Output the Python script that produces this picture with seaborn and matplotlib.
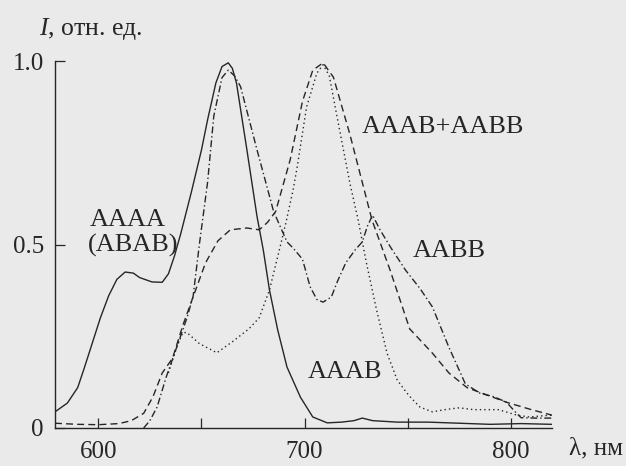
import matplotlib
matplotlib.use("Agg")
import matplotlib.pyplot as plt
import seaborn as sns

# ---- data ----
solid_nm = [579, 585, 590, 593, 597, 601, 605, 609, 613, 617, 620, 626, 631, 634, 637, 640, 645,
            650, 653, 657, 660, 663, 665, 667, 672, 677, 680, 683, 687, 691.5, 698, 704, 711, 718,
            724, 728, 733, 745, 760, 775, 790, 805, 820]
solid_I = [0.044, 0.068, 0.11, 0.16, 0.23, 0.30, 0.36, 0.405, 0.425, 0.422, 0.41, 0.398, 0.397,
           0.42, 0.47, 0.53, 0.64, 0.757, 0.84, 0.94, 0.985, 0.995, 0.98, 0.94, 0.76, 0.575,
           0.485, 0.376, 0.267, 0.166, 0.084, 0.03, 0.014, 0.016, 0.02, 0.027, 0.02, 0.016,
           0.016, 0.013, 0.01, 0.012, 0.01]

dashed_nm = [579, 590, 600, 610, 616, 622, 626.5, 631, 636, 641, 645.5, 652, 658, 664, 672, 678,
             682, 686, 693, 699, 704, 709, 714, 722, 732.7, 741.5, 751, 762, 770, 778.8, 786, 798,
             810, 820]
dashed_I = [0.013, 0.01, 0.009, 0.012, 0.02, 0.04, 0.085, 0.15, 0.19, 0.28, 0.35, 0.45, 0.51,
            0.54, 0.545, 0.54, 0.56, 0.59, 0.73, 0.89, 0.975, 0.995, 0.956, 0.80, 0.567, 0.43,
            0.27, 0.204, 0.15, 0.11, 0.095, 0.07, 0.05, 0.035]

dashdot_nm = [622, 625, 628.5, 633, 638, 643, 646, 649, 653, 656, 660, 663, 666, 669, 677, 685,
              691.5, 694.5, 699, 702.7, 706, 709, 713, 716, 720, 724.5, 728, 730.5, 733, 736.6,
              742, 749, 756, 762, 770, 778, 785, 792, 798, 802, 805, 812, 820]
dashdot_I = [0.0, 0.02, 0.057, 0.14, 0.22, 0.30, 0.36, 0.5, 0.67, 0.85, 0.955, 0.975, 0.96, 0.93,
             0.757, 0.59, 0.507, 0.49, 0.46, 0.385, 0.35, 0.343, 0.357, 0.40, 0.45, 0.485, 0.507,
             0.55, 0.58, 0.54, 0.49, 0.43, 0.38, 0.33, 0.22, 0.12, 0.095, 0.085, 0.07, 0.045,
             0.028, 0.027, 0.027]

dotted_nm = [634, 638, 641, 643, 649, 657.5, 665, 673, 678, 683, 688, 691, 694.5, 696.4, 701, 706,
             709, 712, 715.8, 722, 726, 730, 735, 740, 745, 749.7, 752, 756, 762, 768, 775, 782,
             794, 803, 809, 815, 820]
dotted_I = [0.15, 0.22, 0.26, 0.26, 0.23, 0.205, 0.235, 0.27, 0.30, 0.376, 0.49, 0.56, 0.65, 0.71,
            0.875, 0.967, 0.99, 0.96, 0.847, 0.667, 0.567, 0.45, 0.32, 0.204, 0.13, 0.095, 0.08,
            0.057, 0.044, 0.05, 0.055, 0.05, 0.05, 0.035, 0.03, 0.033, 0.035]

labels = ["AAAA", "(ABAB)", "AAAB+AABB", "AABB", "AAAB"]
label_nm = [596.0, 595.0, 727.9, 752.6, 701.7]
label_I = [0.55, 0.48, 0.804, 0.466, 0.136]

xticks = [600, 650, 700, 750, 800]
xticklabels = ["600", "", "700", "", "800"]
yticks = [0, 0.5, 1.0]
yticklabels = ["0", "0.5", "1.0"]

# ---- styling ----
bg = "#eaeaea"
ink = "#262626"
sns.set_theme(style="ticks")
plt.rcParams["font.family"] = ["Liberation Serif", "DejaVu Serif"]
plt.rcParams["mathtext.fontset"] = "custom"
plt.rcParams["mathtext.rm"] = "Liberation Serif"
plt.rcParams["mathtext.it"] = "Liberation Serif:italic"

fig = plt.figure(figsize=(6.26, 4.66), dpi=100, facecolor=bg)
ax = fig.add_axes([55 / 626, 38 / 466, 497 / 626, 367 / 466])
ax.set_facecolor(bg)

lw = 1.0
sns.lineplot(x=solid_nm, y=solid_I, ax=ax, color=ink, linewidth=lw, estimator=None,
             linestyle="-")
sns.lineplot(x=dashed_nm, y=dashed_I, ax=ax, color=ink, linewidth=lw, estimator=None,
             linestyle=(0, (5, 3)))
sns.lineplot(x=dashdot_nm, y=dashdot_I, ax=ax, color=ink, linewidth=lw, estimator=None,
             linestyle=(0, (5, 2, 1, 2)))
sns.lineplot(x=dotted_nm, y=dotted_I, ax=ax, color=ink, linewidth=lw, estimator=None,
             linestyle=(0, (1, 2.2)))

ax.set_xlim(579, 820)
ax.set_ylim(0, 1.0)
sns.despine(ax=ax)
for s in ("left", "bottom"):
    ax.spines[s].set_color(ink)
    ax.spines[s].set_linewidth(1.0)

ax.set_xticks(xticks)
ax.set_xticklabels(xticklabels)
ax.set_yticks(yticks)
ax.set_yticklabels(yticklabels)
ax.tick_params(direction="in", length=7, width=0.9, colors=ink, labelsize=18)
ax.tick_params(axis="y", pad=8)
ax.tick_params(axis="x", pad=9)
ax.set_xlabel("")
ax.set_ylabel("")

for t, xv, yv in zip(labels, label_nm, label_I):
    ax.text(xv, yv, t, fontsize=19, color=ink, ha="left", va="baseline")

fig.text(91 / 626, 1 - 29 / 466, r"$I$, отн. ед.", fontsize=18.5, color=ink,
         ha="center", va="center")
fig.text(596 / 626, 1 - 448 / 466, "λ, нм", fontsize=18, color=ink,
         ha="center", va="center")

fig.savefig("out.png", dpi=100, facecolor=bg)
